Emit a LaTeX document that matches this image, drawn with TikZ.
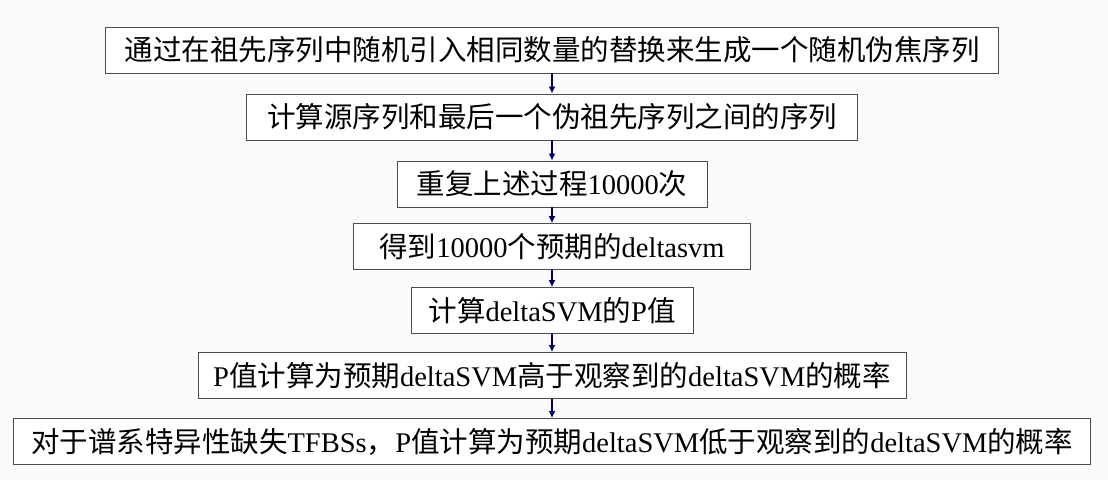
\documentclass[tikz,border=0pt]{standalone}
\usepackage{fontspec}
\setmainfont{Noto Sans CJK SC}
\newfontfamily\enfont{Liberation Serif}
\newcommand{\en}[1]{{\enfont #1}}
\usetikzlibrary{arrows.meta}

\begin{document}
\begin{tikzpicture}[x=1pt,y=-1pt]
  \tikzstyle{StepBox}=[draw=black!70,line width=0.9pt,fill=white,
    minimum height=46pt,inner sep=0pt,
    font=\fontsize{28.5}{34}\selectfont]
  \tikzstyle{Link}=[draw=blue!40!black,line width=1.3pt,
    -{Latex[length=7pt,width=7pt]}]
  \fill[white!98!black] (0,0) rectangle (1108,480);
  \useasboundingbox (0,0) rectangle (1108,480);
  \node[StepBox,minimum width=893pt] (gen) at (552,50)
    {通过在祖先序列中随机引入相同数量的替换来生成一个随机伪焦序列};
  \node[StepBox,minimum width=611pt] (dist) at (552,117)
    {计算源序列和最后一个伪祖先序列之间的序列};
  \node[StepBox,minimum width=310pt] (rep) at (552,184)
    {重复上述过程\en{10000}次};
  \node[StepBox,minimum width=397pt] (exp) at (552,246.5)
    {得到\en{10000}个预期的\en{deltasvm}};
  \node[StepBox,minimum width=282pt] (pval) at (552,310.5)
    {计算\en{deltaSVM}的\en{P}值};
  \node[StepBox,minimum width=708pt] (gain) at (552,375.5)
    {\en{P}值计算为预期\en{deltaSVM}高于观察到的\en{deltaSVM}的概率};
  \node[StepBox,minimum width=1077pt] (loss) at (552,441.5)
    {对于谱系特异性缺失\en{TFBSs}，\en{P}值计算为预期\en{deltaSVM}低于观察到的\en{deltaSVM}的概率};
  \draw[Link] (gen) -- (dist);
  \draw[Link] (dist) -- (rep);
  \draw[Link] (rep) -- (exp);
  \draw[Link] (exp) -- (pval);
  \draw[Link] (pval) -- (gain);
  \draw[Link] (gain) -- (loss);
\end{tikzpicture}
\end{document}
